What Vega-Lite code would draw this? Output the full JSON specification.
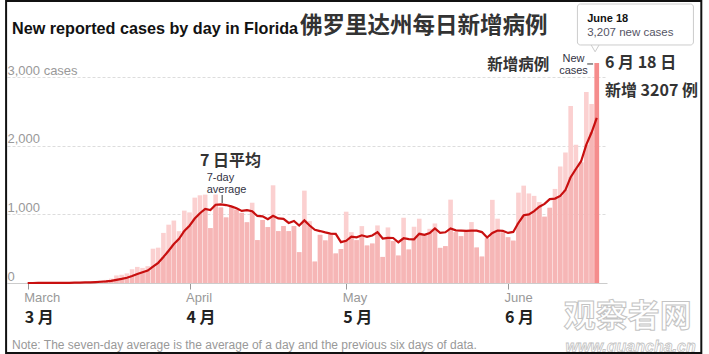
{
  "$schema": "https://vega.github.io/schema/vega-lite/v6.json",
  "width": 600,
  "height": 223,
  "autosize": {"type": "none"},
  "padding": {"left": 7, "top": 60, "right": 102, "bottom": 71},
  "background": "white",
  "config": {"view": {"stroke": null}, "font": "Liberation Sans"},
  "datasets": {
    "cases": [
      {"date": "2020-03-01", "cases": 2, "avg": 0.3},
      {"date": "2020-03-02", "cases": 0, "avg": 0.3},
      {"date": "2020-03-03", "cases": 1, "avg": 0.4},
      {"date": "2020-03-04", "cases": 1, "avg": 0.6},
      {"date": "2020-03-05", "cases": 2, "avg": 0.9},
      {"date": "2020-03-06", "cases": 2, "avg": 1.1},
      {"date": "2020-03-07", "cases": 3, "avg": 1.6},
      {"date": "2020-03-08", "cases": 4, "avg": 1.9},
      {"date": "2020-03-09", "cases": 8, "avg": 3.0},
      {"date": "2020-03-10", "cases": 10, "avg": 4.3},
      {"date": "2020-03-11", "cases": 12, "avg": 5.9},
      {"date": "2020-03-12", "cases": 15, "avg": 7.7},
      {"date": "2020-03-13", "cases": 20, "avg": 10.3},
      {"date": "2020-03-14", "cases": 25, "avg": 13.4},
      {"date": "2020-03-15", "cases": 35, "avg": 17.9},
      {"date": "2020-03-16", "cases": 45, "avg": 23.1},
      {"date": "2020-03-17", "cases": 64, "avg": 30.9},
      {"date": "2020-03-18", "cases": 110, "avg": 44.9},
      {"date": "2020-03-19", "cases": 120, "avg": 59.9},
      {"date": "2020-03-20", "cases": 140, "avg": 77},
      {"date": "2020-03-21", "cases": 200, "avg": 102},
      {"date": "2020-03-22", "cases": 235, "avg": 131},
      {"date": "2020-03-23", "cases": 220, "avg": 156},
      {"date": "2020-03-24", "cases": 245, "avg": 181},
      {"date": "2020-03-25", "cases": 500, "avg": 237},
      {"date": "2020-03-26", "cases": 515, "avg": 294},
      {"date": "2020-03-27", "cases": 730, "avg": 378},
      {"date": "2020-03-28", "cases": 850, "avg": 471},
      {"date": "2020-03-29", "cases": 910, "avg": 567},
      {"date": "2020-03-30", "cases": 755, "avg": 644},
      {"date": "2020-03-31", "cases": 1055, "avg": 759},
      {"date": "2020-04-01", "cases": 1029, "avg": 835},
      {"date": "2020-04-02", "cases": 1244, "avg": 939},
      {"date": "2020-04-03", "cases": 1278, "avg": 1017},
      {"date": "2020-04-04", "cases": 1288, "avg": 1080},
      {"date": "2020-04-05", "cases": 800, "avg": 1064},
      {"date": "2020-04-06", "cases": 1290, "avg": 1141},
      {"date": "2020-04-07", "cases": 1100, "avg": 1147},
      {"date": "2020-04-08", "cases": 955, "avg": 1136},
      {"date": "2020-04-09", "cases": 1110, "avg": 1117},
      {"date": "2020-04-10", "cases": 1070, "avg": 1088},
      {"date": "2020-04-11", "cases": 1022, "avg": 1050},
      {"date": "2020-04-12", "cases": 885, "avg": 1062},
      {"date": "2020-04-13", "cases": 1170, "avg": 1045},
      {"date": "2020-04-14", "cases": 625, "avg": 977},
      {"date": "2020-04-15", "cases": 917, "avg": 971},
      {"date": "2020-04-16", "cases": 815, "avg": 929},
      {"date": "2020-04-17", "cases": 1424, "avg": 980},
      {"date": "2020-04-18", "cases": 756, "avg": 942},
      {"date": "2020-04-19", "cases": 830, "avg": 934},
      {"date": "2020-04-20", "cases": 756, "avg": 875},
      {"date": "2020-04-21", "cases": 830, "avg": 904},
      {"date": "2020-04-22", "cases": 449, "avg": 837},
      {"date": "2020-04-23", "cases": 1346, "avg": 913},
      {"date": "2020-04-24", "cases": 902, "avg": 838},
      {"date": "2020-04-25", "cases": 312, "avg": 775},
      {"date": "2020-04-26", "cases": 702, "avg": 757},
      {"date": "2020-04-27", "cases": 620, "avg": 737},
      {"date": "2020-04-28", "cases": 707, "avg": 720},
      {"date": "2020-04-29", "cases": 430, "avg": 717},
      {"date": "2020-04-30", "cases": 495, "avg": 595},
      {"date": "2020-05-01", "cases": 1039, "avg": 615},
      {"date": "2020-05-02", "cases": 741, "avg": 676},
      {"date": "2020-05-03", "cases": 624, "avg": 665},
      {"date": "2020-05-04", "cases": 829, "avg": 695},
      {"date": "2020-05-05", "cases": 546, "avg": 672},
      {"date": "2020-05-06", "cases": 575, "avg": 693},
      {"date": "2020-05-07", "cases": 839, "avg": 742},
      {"date": "2020-05-08", "cases": 380, "avg": 648},
      {"date": "2020-05-09", "cases": 810, "avg": 658},
      {"date": "2020-05-10", "cases": 610, "avg": 656},
      {"date": "2020-05-11", "cases": 400, "avg": 594},
      {"date": "2020-05-12", "cases": 951, "avg": 652},
      {"date": "2020-05-13", "cases": 488, "avg": 640},
      {"date": "2020-05-14", "cases": 820, "avg": 637},
      {"date": "2020-05-15", "cases": 937, "avg": 717},
      {"date": "2020-05-16", "cases": 707, "avg": 702},
      {"date": "2020-05-17", "cases": 790, "avg": 728},
      {"date": "2020-05-18", "cases": 868, "avg": 794},
      {"date": "2020-05-19", "cases": 512, "avg": 732},
      {"date": "2020-05-20", "cases": 537, "avg": 739},
      {"date": "2020-05-21", "cases": 1215, "avg": 795},
      {"date": "2020-05-22", "cases": 741, "avg": 767},
      {"date": "2020-05-23", "cases": 683, "avg": 764},
      {"date": "2020-05-24", "cases": 766, "avg": 760},
      {"date": "2020-05-25", "cases": 888, "avg": 763},
      {"date": "2020-05-26", "cases": 517, "avg": 764},
      {"date": "2020-05-27", "cases": 385, "avg": 742},
      {"date": "2020-05-28", "cases": 651, "avg": 662},
      {"date": "2020-05-29", "cases": 1212, "avg": 729},
      {"date": "2020-05-30", "cases": 937, "avg": 765},
      {"date": "2020-05-31", "cases": 739, "avg": 761},
      {"date": "2020-06-01", "cases": 667, "avg": 730},
      {"date": "2020-06-02", "cases": 617, "avg": 744},
      {"date": "2020-06-03", "cases": 1317, "avg": 877},
      {"date": "2020-06-04", "cases": 1419, "avg": 987},
      {"date": "2020-06-05", "cases": 1305, "avg": 1000},
      {"date": "2020-06-06", "cases": 1270, "avg": 1048},
      {"date": "2020-06-07", "cases": 1180, "avg": 1111},
      {"date": "2020-06-08", "cases": 966, "avg": 1153},
      {"date": "2020-06-09", "cases": 1096, "avg": 1222},
      {"date": "2020-06-10", "cases": 1371, "avg": 1230},
      {"date": "2020-06-11", "cases": 1698, "avg": 1269},
      {"date": "2020-06-12", "cases": 1902, "avg": 1355},
      {"date": "2020-06-13", "cases": 2581, "avg": 1542},
      {"date": "2020-06-14", "cases": 2016, "avg": 1661},
      {"date": "2020-06-15", "cases": 1758, "avg": 1775},
      {"date": "2020-06-16", "cases": 2783, "avg": 2016},
      {"date": "2020-06-17", "cases": 2610, "avg": 2193},
      {"date": "2020-06-18", "cases": 3207, "avg": 2408}
    ],
    "months": [
      {"date": "2020-03-01", "label": "3 月"},
      {"date": "2020-04-01", "label": "4 月"},
      {"date": "2020-05-01", "label": "5 月"},
      {"date": "2020-06-01", "label": "6 月"}
    ]
  },
  "layer": [
    {
      "data": {"name": "cases"},
      "mark": {"type": "bar", "orient": "vertical", "size": 4.6, "fill": "#fbd0d0"},
      "encoding": {
        "x": {
          "field": "date", "type": "temporal",
          "scale": {"type": "utc", "nice": false, "domain": [{"year": 2020, "month": 2, "date": 27, "utc": true}, {"year": 2020, "month": 6, "date": 19, "utc": true}]},
          "axis": {
            "title": null, "format": "%B", "grid": false,
            "values": [{"year": 2020, "month": 3, "date": 1, "utc": true}, {"year": 2020, "month": 4, "date": 1, "utc": true}, {"year": 2020, "month": 5, "date": 1, "utc": true}, {"year": 2020, "month": 6, "date": 1, "utc": true}],
            "domainColor": "#cccccc", "domainWidth": 1, "tickColor": "#999999", "tickSize": 6, "tickWidth": 1,
            "labelColor": "#999999", "labelFontSize": 13, "labelFont": "Liberation Sans", "labelAlign": "left", "labelOffset": -4, "labelPadding": 2, "labelFlush": false
          }
        },
        "y": {
          "field": "cases", "type": "quantitative", "stack": null,
          "scale": {"domain": [0, 3250], "nice": false, "zero": false},
          "axis": {
            "title": null, "values": [0, 1000, 2000, 3000], "grid": true, "gridDash": [3, 2], "gridColor": "#dddddd",
            "domain": false, "ticks": false, "tickSize": 0, "labelAlign": "left", "labelBaseline": "alphabetic",
            "labelPadding": 0, "labelOffset": -3, "labelColor": "#999999", "labelFontSize": 13, "labelFont": "Liberation Sans",
            "labelExpr": "datum.value == 3000 ? '3,000 cases' : datum.label"
          }
        }
      }
    },
    {
      "data": {"name": "cases"},
      "transform": [{"filter": "datum.cases >= datum.avg"}],
      "mark": {"type": "bar", "orient": "vertical", "size": 4.6, "fill": "#f6b6b6"},
      "encoding": {
        "x": {"field": "date", "type": "temporal"},
        "y": {"field": "avg", "type": "quantitative", "stack": null}
      }
    },
    {
      "data": {"name": "cases"},
      "transform": [{"filter": "datum.cases < datum.avg"}],
      "mark": {"type": "bar", "orient": "vertical", "size": 4.6, "fill": "#f6b6b6"},
      "encoding": {
        "x": {"field": "date", "type": "temporal"},
        "y": {"field": "cases", "type": "quantitative", "stack": null}
      }
    },
    {
      "data": {"name": "cases"},
      "transform": [{"filter": "utcmonth(toDate(datum.date)) == 5 && utcdate(toDate(datum.date)) == 18"}],
      "mark": {"type": "bar", "orient": "vertical", "size": 4.6, "fill": "#f58c8c"},
      "encoding": {
        "x": {"field": "date", "type": "temporal"},
        "y": {"field": "cases", "type": "quantitative", "stack": null}
      }
    },
    {
      "data": {"name": "cases"},
      "mark": {"type": "line", "stroke": "#c80f0f", "strokeWidth": 2.2},
      "encoding": {
        "x": {"field": "date", "type": "temporal"},
        "y": {"field": "avg", "type": "quantitative"}
      }
    },
    {
      "data": {"values": [{}]},
      "mark": {"type": "text", "text": "New reported cases by day in Florida", "align": "left", "baseline": "alphabetic", "font": "Liberation Sans", "fontSize": 16.2, "fontWeight": "bold", "fill": "#121212"},
      "encoding": {
        "x": {"datum": {"year": 2020, "month": 2, "date": 27, "utc": true}, "type": "temporal"},
        "y": {"datum": 3629, "type": "quantitative"}
      }
    },
    {
      "data": {"values": [{}]},
      "mark": {"type": "text", "text": "佛罗里达州每日新增病例", "align": "left", "baseline": "alphabetic", "font": "Noto Sans CJK SC", "fontSize": 22.5, "fontWeight": "bold", "fill": "#333333"},
      "encoding": {
        "x": {"datum": {"year": 2020, "month": 4, "date": 22, "hours": 4, "minutes": 20, "utc": true}, "type": "temporal"},
        "y": {"datum": 3643, "type": "quantitative"}
      }
    },
    {
      "data": {"values": [{}]},
      "mark": {"type": "text", "text": "新增病例", "align": "left", "baseline": "alphabetic", "font": "Noto Sans CJK SC", "fontSize": 15.5, "fontWeight": "bold", "fill": "#333333"},
      "encoding": {
        "x": {"datum": {"year": 2020, "month": 5, "date": 28, "utc": true}, "type": "temporal"},
        "y": {"datum": 3097, "type": "quantitative"}
      }
    },
    {
      "data": {"values": [{}]},
      "mark": {"type": "text", "text": "6 月 18 日", "align": "left", "baseline": "alphabetic", "font": "Noto Sans CJK SC", "fontSize": 16, "fontWeight": "bold", "fill": "#333333"},
      "encoding": {
        "x": {"datum": {"year": 2020, "month": 6, "date": 19, "hours": 13, "minutes": 40, "utc": true}, "type": "temporal"},
        "y": {"datum": 3133, "type": "quantitative"}
      }
    },
    {
      "data": {"values": [{}]},
      "mark": {"type": "text", "text": "新增 3207 例", "align": "left", "baseline": "alphabetic", "font": "Noto Sans CJK SC", "fontSize": 16, "fontWeight": "bold", "fill": "#333333"},
      "encoding": {
        "x": {"datum": {"year": 2020, "month": 6, "date": 19, "hours": 13, "minutes": 40, "utc": true}, "type": "temporal"},
        "y": {"datum": 2725, "type": "quantitative"}
      }
    },
    {
      "data": {"values": [{}]},
      "mark": {"type": "text", "text": ["New", "cases"], "lineHeight": 12, "align": "center", "baseline": "alphabetic", "font": "Liberation Sans", "fontSize": 11, "fill": "#333344"},
      "encoding": {
        "x": {"datum": {"year": 2020, "month": 6, "date": 13, "hours": 13, "utc": true}, "type": "temporal"},
        "y": {"datum": 3221, "type": "quantitative"}
      }
    },
    {
      "data": {"values": [{}]},
      "mark": {"type": "rule", "stroke": "#333333", "strokeWidth": 1},
      "encoding": {
        "x": {"datum": {"year": 2020, "month": 6, "date": 16, "hours": 4, "utc": true}, "type": "temporal"},
        "x2": {"datum": {"year": 2020, "month": 6, "date": 17, "hours": 7, "utc": true}},
        "y": {"datum": 3192, "type": "quantitative"}
      }
    },
    {
      "data": {"values": [{}]},
      "mark": {"type": "text", "text": "7 日平均", "align": "left", "baseline": "alphabetic", "font": "Noto Sans CJK SC", "fontSize": 16, "fontWeight": "bold", "fill": "#333333"},
      "encoding": {
        "x": {"datum": {"year": 2020, "month": 4, "date": 3, "utc": true}, "type": "temporal"},
        "y": {"datum": 1705, "type": "quantitative"}
      }
    },
    {
      "data": {"values": [{}]},
      "mark": {"type": "text", "text": ["7-day", "average"], "lineHeight": 12, "align": "left", "baseline": "alphabetic", "font": "Liberation Sans", "fontSize": 11, "fill": "#333344"},
      "encoding": {
        "x": {"datum": {"year": 2020, "month": 4, "date": 4, "hours": 7, "utc": true}, "type": "temporal"},
        "y": {"datum": 1487, "type": "quantitative"}
      }
    },
    {
      "data": {"values": [{}]},
      "mark": {"type": "rule", "stroke": "#333333", "strokeWidth": 1},
      "encoding": {
        "x": {"datum": {"year": 2020, "month": 4, "date": 7, "hours": 6, "utc": true}, "type": "temporal"},
        "y": {"datum": 1283, "type": "quantitative"},
        "y2": {"datum": 1166}
      }
    },
    {
      "data": {"name": "months"},
      "mark": {"type": "text", "align": "left", "baseline": "alphabetic", "dx": -3, "font": "Noto Sans CJK SC", "fontSize": 16, "fontWeight": "bold", "fill": "#222222"},
      "encoding": {
        "x": {"field": "date", "type": "temporal"},
        "y": {"datum": -590, "type": "quantitative"},
        "text": {"field": "label"}
      }
    },
    {
      "data": {"values": [{}]},
      "mark": {"type": "text", "text": "Note: The seven-day average is the average of a day and the previous six days of data.", "align": "left", "baseline": "alphabetic", "font": "Liberation Sans", "fontSize": 12, "fill": "#999999"},
      "encoding": {
        "x": {"datum": {"year": 2020, "month": 2, "date": 27, "utc": true}, "type": "temporal"},
        "y": {"datum": -962, "type": "quantitative"}
      }
    },
    {
      "data": {"values": [{}]},
      "mark": {"type": "text", "text": "观察者网", "align": "left", "baseline": "alphabetic", "font": "Noto Sans CJK SC", "fontSize": 32, "fontWeight": "bold", "fill": "#ffffff", "stroke": "#c4c4c4", "strokeWidth": 1},
      "encoding": {
        "x": {"datum": {"year": 2020, "month": 6, "date": 11, "hours": 15, "minutes": 50, "utc": true}, "type": "temporal"},
        "y": {"datum": -641, "type": "quantitative"}
      }
    },
    {
      "data": {"values": [{}]},
      "mark": {"type": "text", "text": "www.guancha.cn", "align": "left", "baseline": "alphabetic", "font": "Liberation Sans", "fontSize": 16, "fontWeight": "bold", "fontStyle": "italic", "fill": "#ffffff", "stroke": "#c4c4c4", "strokeWidth": 0.8},
      "encoding": {
        "x": {"datum": {"year": 2020, "month": 6, "date": 12, "minutes": 45, "utc": true}, "type": "temporal"},
        "y": {"datum": -1006, "type": "quantitative"}
      }
    },
    {
      "data": {"values": [{}]},
      "mark": {"type": "point", "shape": "triangle-down", "size": 180, "filled": true, "fill": "#ffffff", "stroke": "#cccccc", "strokeWidth": 1, "opacity": 1},
      "encoding": {
        "x": {"datum": {"year": 2020, "month": 6, "date": 17, "hours": 16, "minutes": 20, "utc": true}, "type": "temporal"},
        "y": {"datum": 3454, "type": "quantitative"}
      }
    },
    {
      "data": {"values": [{}]},
      "mark": {"type": "rect", "fill": "#ffffff", "stroke": "#cccccc", "strokeWidth": 1, "cornerRadius": 3},
      "encoding": {
        "x": {"datum": {"year": 2020, "month": 6, "date": 14, "hours": 7, "utc": true}, "type": "temporal"},
        "x2": {"datum": {"year": 2020, "month": 7, "date": 6, "hours": 12, "minutes": 15, "utc": true}},
        "y": {"datum": 4066, "type": "quantitative"},
        "y2": {"datum": 3469}
      }
    },
    {
      "data": {"values": [{}]},
      "mark": {"type": "text", "text": "June 18", "align": "left", "baseline": "alphabetic", "font": "Liberation Sans", "fontSize": 11, "fontWeight": "bold", "fill": "#121212"},
      "encoding": {
        "x": {"datum": {"year": 2020, "month": 6, "date": 16, "hours": 4, "utc": true}, "type": "temporal"},
        "y": {"datum": 3804, "type": "quantitative"}
      }
    },
    {
      "data": {"values": [{}]},
      "mark": {"type": "text", "text": "3,207 new cases", "align": "left", "baseline": "alphabetic", "font": "Liberation Sans", "fontSize": 11.5, "fill": "#555566"},
      "encoding": {
        "x": {"datum": {"year": 2020, "month": 6, "date": 16, "hours": 4, "utc": true}, "type": "temporal"},
        "y": {"datum": 3600, "type": "quantitative"}
      }
    },
    {
      "data": {"values": [{}]},
      "mark": {"type": "rect", "fillOpacity": 0, "stroke": "#111111", "strokeWidth": 2},
      "encoding": {
        "x": {"datum": {"year": 2020, "month": 2, "date": 25, "hours": 20, "minutes": 53, "utc": true}, "type": "temporal"},
        "x2": {"datum": {"year": 2020, "month": 7, "date": 8, "minutes": 30, "utc": true}},
        "y": {"datum": 4110, "type": "quantitative"},
        "y2": {"datum": -1020}
      }
    }
  ]
}
